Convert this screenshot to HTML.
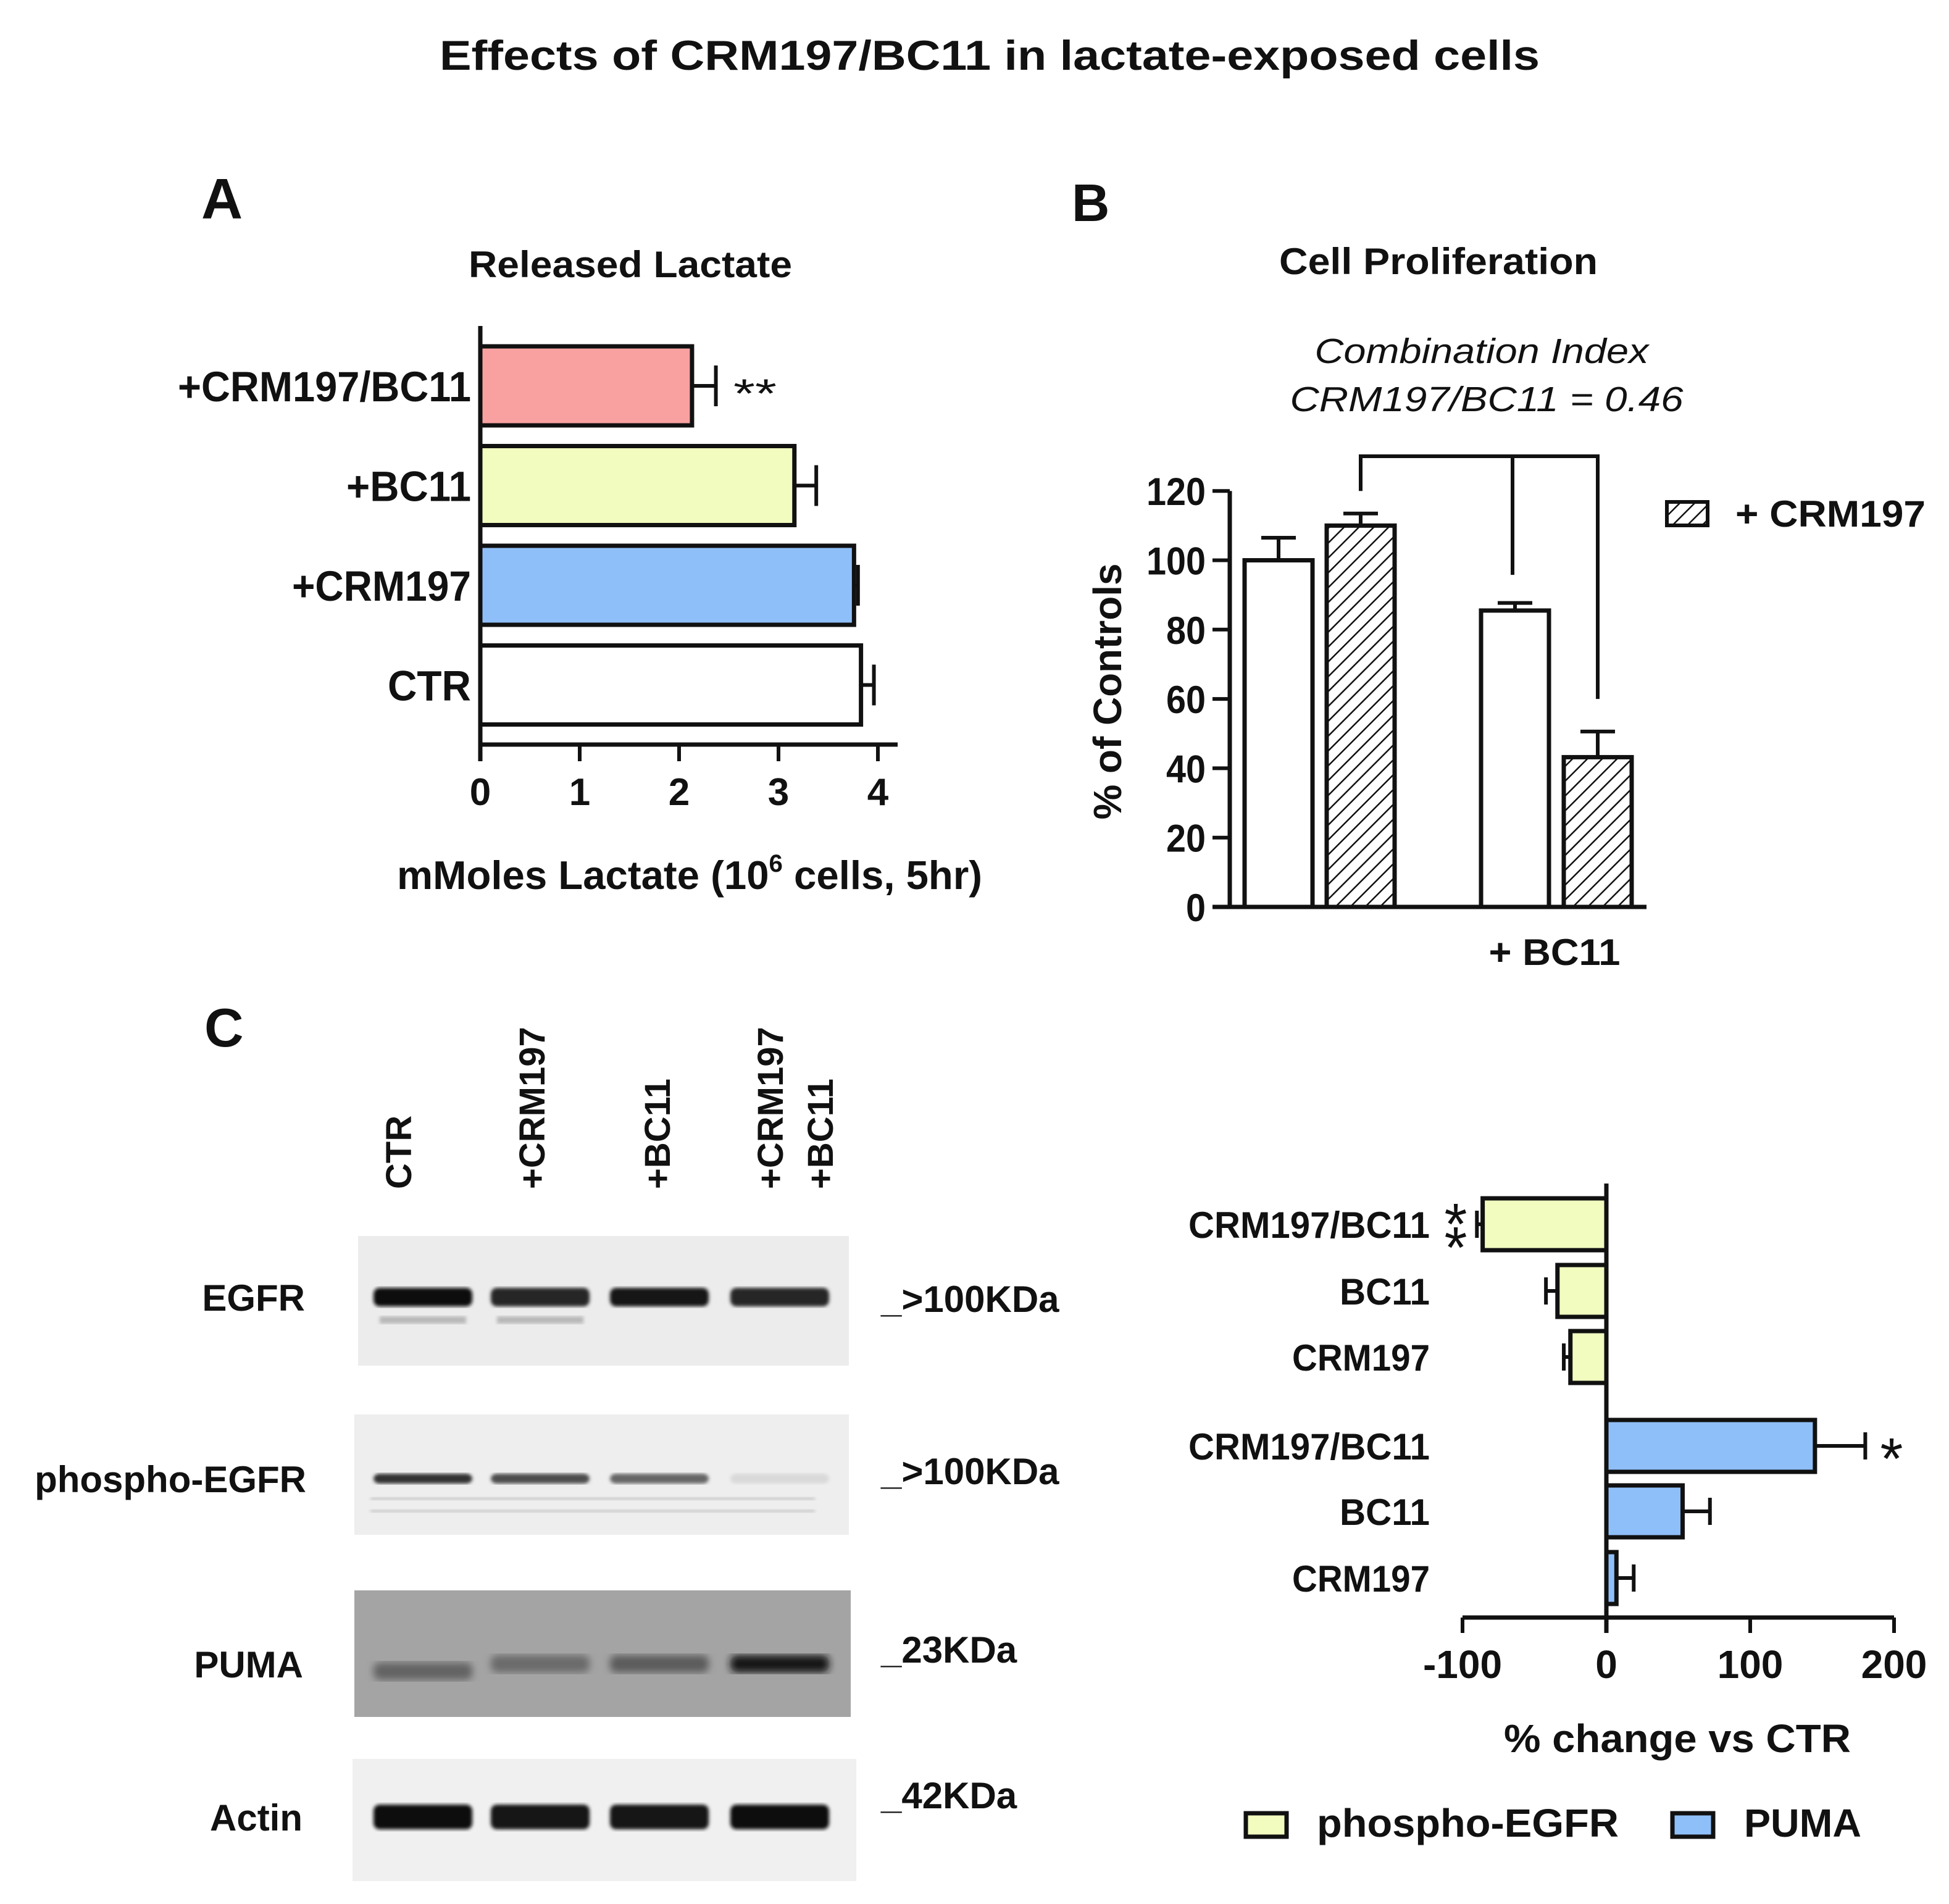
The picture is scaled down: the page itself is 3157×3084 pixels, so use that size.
<!DOCTYPE html>
<html><head><meta charset="utf-8"><style>
html,body{margin:0;padding:0;background:#fff}
svg{display:block}
text{font-family:"Liberation Sans",Arial,sans-serif;font-weight:bold;fill:#111}
</style></head><body>
<svg id="fig" xmlns="http://www.w3.org/2000/svg" width="3157" height="3084" viewBox="0 0 3157 3084">
<defs>
<pattern id="hatch" patternUnits="userSpaceOnUse" width="17" height="17" patternTransform="rotate(45)">
<rect width="17" height="17" fill="#fff"/><line x1="0" y1="0" x2="0" y2="17" stroke="#111" stroke-width="5"/>
</pattern>
<filter id="blur6"><feGaussianBlur stdDeviation="6"/></filter>
<filter id="blur3"><feGaussianBlur stdDeviation="3"/></filter>
</defs>
<text x="1603" y="113" font-size="68" text-anchor="middle" textLength="1782" lengthAdjust="spacingAndGlyphs">Effects of CRM197/BC11 in lactate-exposed cells</text>

<g id="panelA">
<text x="326" y="354" font-size="93">A</text>
<text x="1021" y="449" font-size="60" text-anchor="middle" textLength="524" lengthAdjust="spacingAndGlyphs">Released Lactate</text>
<text x="1117" y="1440" font-size="65" text-anchor="middle" textLength="948" lengthAdjust="spacingAndGlyphs">mMoles Lactate (10<tspan dy="-28" font-size="40">6</tspan><tspan dy="28"> cells, 5hr)</tspan></text>
</g>

<g id="panelB">
<text x="1736" y="358" font-size="85">B</text>
<text x="2330" y="444" font-size="60" text-anchor="middle" textLength="516" lengthAdjust="spacingAndGlyphs">Cell Proliferation</text>
<text x="2400" y="588" font-size="57" font-style="italic" text-anchor="middle" textLength="541" lengthAdjust="spacingAndGlyphs" style="font-weight:normal">Combination Index</text>
<text x="2408" y="666" font-size="57" font-style="italic" text-anchor="middle" textLength="637" lengthAdjust="spacingAndGlyphs" style="font-weight:normal">CRM197/BC11 = 0.46</text>
<text transform="translate(1816,1120) rotate(-90)" font-size="64" text-anchor="middle" textLength="415" lengthAdjust="spacingAndGlyphs">% of Controls</text>
<text x="2518" y="1563" font-size="60" text-anchor="middle" textLength="213" lengthAdjust="spacingAndGlyphs">+ BC11</text>
<rect x="2700" y="813" width="66" height="38" fill="url(#hatch)" stroke="#111" stroke-width="6"/>
<text x="2811" y="853" font-size="60" textLength="308" lengthAdjust="spacingAndGlyphs">+ CRM197</text>
</g>

<g id="panelC">
<text x="331" y="1695" font-size="88">C</text>
</g>

<g id="panelD">
<text x="2717" y="2838" font-size="64" text-anchor="middle" textLength="562" lengthAdjust="spacingAndGlyphs">% change vs CTR</text>
<rect x="2018" y="2937" width="66" height="38" fill="#f2fcbf" stroke="#111" stroke-width="7"/>
<text x="2133" y="2975" font-size="64" textLength="489" lengthAdjust="spacingAndGlyphs">phospho-EGFR</text>
<rect x="2709" y="2937" width="66" height="38" fill="#8fbff8" stroke="#111" stroke-width="7"/>
<text x="2825" y="2975" font-size="64" textLength="190" lengthAdjust="spacingAndGlyphs">PUMA</text>
</g>
</svg>
<script>
// ---------- Panel A data ----------
var aCategories = ["+CRM197/BC11", "+BC11", "+CRM197", "CTR"];
var aValues = [2.13, 3.16, 3.76, 3.83];
var aErrors = [0.24, 0.22, 0.04, 0.13];
var aColors = ["#f9a1a1", "#f2fcbf", "#8fbff8", "#ffffff"];
var aTicks = [0, 1, 2, 3, 4];
var aLabelWidths = [475, 202, 290, 135];
// ---------- Panel B data ----------
var bCategories = ["CTR", "+CRM197", "+BC11", "+CRM197 +BC11"];
var bValues = [100, 110, 85.5, 43.2];
var bErrors = [6.5, 3.5, 2.2, 7.4];
var bHatched = [false, true, false, true];
var bTicks = [0, 20, 40, 60, 80, 100, 120];
// ---------- Panel D data ----------
var dCategories = ["CRM197/BC11", "BC11", "CRM197", "CRM197/BC11", "BC11", "CRM197"];
var dSeries = ["phospho-EGFR", "phospho-EGFR", "phospho-EGFR", "PUMA", "PUMA", "PUMA"];
var dValues = [-86, -34, -25, 145, 53, 7];
var dErrors = [4, 8, 4.6, 35, 19, 12];
var dTicks = [-100, 0, 100, 200];
var dTickLabels = ["-100", "0", "100", "200"];
var dLabelWidths = [391, 146, 223, 391, 146, 223];
// ---------- Panel C data ----------
var cLanes = ["CTR", "+CRM197", "+BC11", "+CRM197 +BC11"];
var cRows = ["EGFR", "phospho-EGFR", "PUMA", "Actin"];
var cSizes = ["_>100KDa", "_>100KDa", "_23KDa", "_42KDa"];
var egfrIntensity = [0.95, 0.85, 0.9, 0.85];
var pegfrIntensity = [0.8, 0.7, 0.6, 0.15];
var pumaIntensity = [0.35, 0.3, 0.4, 0.85];
var actinIntensity = [0.95, 0.92, 0.9, 0.95];

var NS = "http://www.w3.org/2000/svg";
var svg = document.getElementById("fig");
function mk(tag, attrs, parent) {
  var e = document.createElementNS(NS, tag);
  for (var k in attrs) e.setAttribute(k, attrs[k]);
  (parent || svg).appendChild(e);
  return e;
}
function txt(s, attrs, parent) { var t = mk("text", attrs, parent); t.textContent = s; return t; }

// ===== Panel A =====
(function () {
  var g = document.getElementById("panelA");
  var x0 = 778, unit = 161, axisY = 1206, top = 528;
  function ax(v) { return x0 + v * unit; }
  var pitch = 161.5, firstC = 625, bh = 128;
  aCategories.forEach(function (c, i) {
    var cy = firstC + i * pitch;
    var r = mk("rect", {x: ax(0), y: cy - bh / 2, width: ax(aValues[i]) - ax(0), height: bh, fill: aColors[i], stroke: "#111", "stroke-width": 7}, g);
    
    
    var e = mk("path", {d: "M" + ax(aValues[i]) + " " + cy + "H" + ax(aValues[i] + aErrors[i]) + "M" + ax(aValues[i] + aErrors[i]) + " " + (cy - 33) + "V" + (cy + 33), stroke: "#111", "stroke-width": 6, fill: "none"}, g);
    
    
    var t = txt(c, {x: 763, y: cy + 25, "font-size": 69, "text-anchor": "end", textLength: aLabelWidths[i], lengthAdjust: "spacingAndGlyphs"}, g);
    
    
  });
  var s = txt("**", {x: 1188, y: 660, "font-size": 66, textLength: 70, lengthAdjust: "spacingAndGlyphs", style: "font-weight:normal"}, g);
  
  
  var axl = mk("path", {d: "M" + x0 + " " + top + "V" + (axisY + 27) + "M" + (x0 - 3) + " " + axisY + "H1454", stroke: "#111", "stroke-width": 7, fill: "none"}, g);
  
  
  aTicks.forEach(function (v) {
    var tk = mk("line", {x1: ax(v), x2: ax(v), y1: axisY, y2: axisY + 27, stroke: "#111", "stroke-width": 6}, g);
    
    
    var tl = txt(String(v), {x: ax(v), y: 1304, "font-size": 62, "text-anchor": "middle"}, g);
    
    
  });
})();

// ===== Panel B =====
(function () {
  var g = document.getElementById("panelB");
  var y0 = 1469, per = 5.615, axX = 1992;
  function ay(v) { return y0 - v * per; }
  var barX = [2016, 2149, 2399, 2533], bw = 110;
  bCategories.forEach(function (c, i) {
    var r = mk("rect", {x: barX[i], y: ay(bValues[i]), width: bw, height: ay(0) - ay(bValues[i]), fill: bHatched[i] ? "url(#hatch)" : "#fff", stroke: "#111", "stroke-width": 7}, g);
    
    
    var cx = barX[i] + bw / 2;
    var e = mk("path", {d: "M" + cx + " " + ay(bValues[i]) + "V" + ay(bValues[i] + bErrors[i]) + "M" + (cx - 28) + " " + ay(bValues[i] + bErrors[i]) + "H" + (cx + 28), stroke: "#111", "stroke-width": 6, fill: "none"}, g);
    
    
  });
  var br = mk("path", {d: "M2204 " + ay(120) + "V" + ay(130) + "H2588V" + ay(60) + "M2450 " + ay(130) + "V" + ay(95.8), stroke: "#111", "stroke-width": 6, fill: "none"}, g);
  
  
  var axl = mk("path", {d: "M" + axX + " " + ay(120) + "V" + (y0 + 3) + "M1964 " + y0 + "H2667", stroke: "#111", "stroke-width": 7, fill: "none"}, g);
  
  
  bTicks.forEach(function (v) {
    var tk = mk("line", {x1: 1964, x2: axX, y1: ay(v), y2: ay(v), stroke: "#111", "stroke-width": 6}, g);
    
    
    var tl = txt(String(v), {x: 1953, y: ay(v) + 23, "font-size": 63, "text-anchor": "end", textLength: String(v).length * 32, lengthAdjust: "spacingAndGlyphs"}, g);
    
    
  });
})();

// ===== Panel D =====
(function () {
  var g = document.getElementById("panelD");
  var x0 = 2602, per = 2.33, axisY = 2620, top = 1917;
  function ax(v) { return x0 + v * per; }
  var centers = [1983, 2091, 2198, 2342, 2448, 2556], bh = 84;
  dCategories.forEach(function (c, i) {
    var cy = centers[i], v = dValues[i];
    var col = dSeries[i] === "PUMA" ? "#8fbff8" : "#f2fcbf";
    var r = mk("rect", {x: Math.min(ax(0), ax(v)), y: cy - bh / 2, width: Math.abs(ax(v) - ax(0)), height: bh, fill: col, stroke: "#111", "stroke-width": 7}, g);
    
    
    var sgn = v < 0 ? -1 : 1, ee = ax(v + sgn * dErrors[i]);
    var e = mk("path", {d: "M" + ax(v) + " " + cy + "H" + ee + "M" + ee + " " + (cy - 22) + "V" + (cy + 22), stroke: "#111", "stroke-width": 6, fill: "none"}, g);
    
    
    var t = txt(c, {x: 2316, y: cy + 22, "font-size": 60, "text-anchor": "end", textLength: dLabelWidths[i], lengthAdjust: "spacingAndGlyphs"}, g);
    
    
  });
  var s1 = txt("*", {x: 2358, y: 2015, "font-size": 95, "text-anchor": "middle", style: "font-weight:normal"}, g);
  
  
  var s1b = txt("*", {x: 2358, y: 2053, "font-size": 95, "text-anchor": "middle", style: "font-weight:normal"}, g);
  
  
  var s2 = txt("*", {x: 3064, y: 2395, "font-size": 95, "text-anchor": "middle", style: "font-weight:normal"}, g);
  
  
  var axl = mk("path", {d: "M" + x0 + " " + top + "V" + (axisY + 25) + "M" + ax(-100) + " " + axisY + "H" + ax(200), stroke: "#111", "stroke-width": 7, fill: "none"}, g);
  
  
  dTicks.forEach(function (v, i) {
    var tk = mk("line", {x1: ax(v), x2: ax(v), y1: axisY, y2: axisY + 25, stroke: "#111", "stroke-width": 6}, g);
    
    
    var tl = txt(dTickLabels[i], {x: ax(v), y: 2718, "font-size": 64, "text-anchor": "middle"}, g);
    
    
  });
})();

// ===== Panel C (western blots) =====
(function () {
  var g = document.getElementById("panelC");
  var laneX = [685, 875, 1068, 1263], laneW = 150;
  var colLabelX = [666, 882, 1085, 1268];
  cLanes.forEach(function (l, i) {
    if (i < 3) {
      var t = txt(l, {transform: "translate(" + colLabelX[i] + ",1926) rotate(-90)", "font-size": 58}, g);
      
      
    } else {
      var t1 = txt("+CRM197", {transform: "translate(1268,1926) rotate(-90)", "font-size": 58}, g);
      
      
      var t2 = txt("+BC11", {transform: "translate(1349,1926) rotate(-90)", "font-size": 58}, g);
      
      
    }
  });
  var boxes = [[580, 2002, 795, 210, "#ececec"], [574, 2291, 801, 195, "#eeeeee"], [574, 2576, 804, 205, "#a4a4a4"], [571, 2849, 816, 198, "#f0f0f0"]];
  var bandY = [2101, 2395, 2695, 2943];
  var bandH = [30, 16, 28, 40];
  var inten = [egfrIntensity, pegfrIntensity, pumaIntensity, actinIntensity];
  var labelRight = [494, 496, 491, 490];
  var sizeY = [2125, 2404, 2693, 2929];
  cRows.forEach(function (row, r) {
    var b = boxes[r];
    var bx = mk("rect", {x: b[0], y: b[1], width: b[2], height: b[3], fill: b[4]}, g);
    
    
    if (r === 1) {
      [2425, 2445].forEach(function (yy) {
        var fl = mk("rect", {x: 600, y: yy, width: 720, height: 5, fill: "#c8c8c8", filter: "url(#blur3)"}, g);
        
        
      });
    }
    if (r === 0) {
      laneX.slice(0, 2).forEach(function (lx) {
        var fl = mk("rect", {x: lx - 70, y: 2132, width: 140, height: 12, fill: "#b8b8b8", filter: "url(#blur3)"}, g);
        
        
      });
    }
    laneX.forEach(function (lx, i) {
      var v = inten[r][i];
      var shade = Math.round(255 * (1 - v) * (r === 2 ? 0.6 : 1));
      var yy = bandY[r] - (r === 2 ? (i === 0 ? -12 : 0) : 0);
      var band = mk("rect", {x: lx - laneW / 2 - 5, y: yy - bandH[r] / 2, width: laneW + 10, height: bandH[r], rx: 10, fill: "rgb(" + shade + "," + shade + "," + shade + ")", filter: r === 2 ? "url(#blur6)" : "url(#blur3)"}, g);
      
      
    });
    var lt = txt(row, {x: labelRight[r], y: bandY[r] + 22, "font-size": 60, "text-anchor": "end"}, g);
    
    
    var st = txt(cSizes[r], {x: 1427, y: sizeY[r], "font-size": 60}, g);
    
    
  });
})();
</script>
</body></html>
